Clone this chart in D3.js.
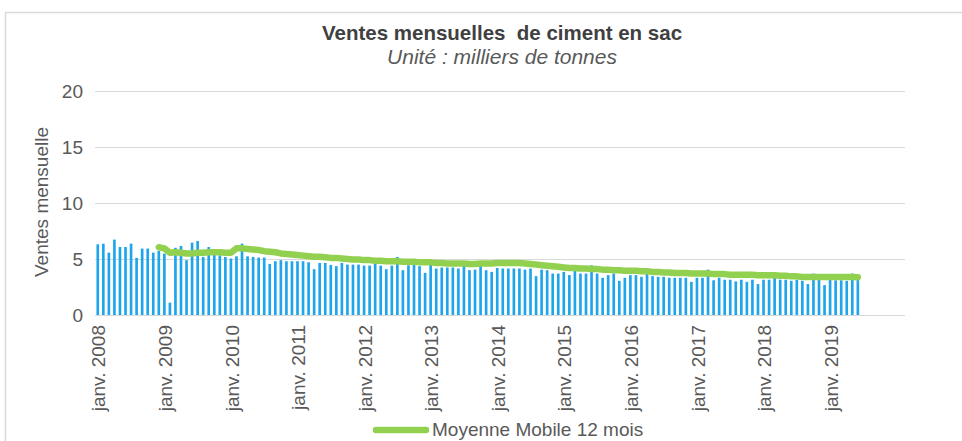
<!DOCTYPE html>
<html><head><meta charset="utf-8">
<script src="https://cdn.jsdelivr.net/npm/d3@7"></script>
<style>
html,body{margin:0;padding:0;background:#fff;}
svg{display:block;font-family:"Liberation Sans",Arial,sans-serif;}
</style></head><body>
<svg id="c" width="962" height="441"></svg>
<script>
// ---- data ----
const title = "Ventes mensuelles  de ciment en sac";
const subtitle = "Unité : milliers de tonnes";
const yTitle = "Ventes mensuelle";
const legendLabel = "Moyenne Mobile 12 mois";
const startYear = 2008;
const axisMonths = 146; // months spanned by the category axis
const yTicks = [0, 5, 10, 15, 20];
const tickLabels = ["janv. 2008","janv. 2009","janv. 2010","janv. 2011","janv. 2012","janv. 2013",
  "janv. 2014","janv. 2015","janv. 2016","janv. 2017","janv. 2018","janv. 2019"];
const sales2008 = [6.31,6.37,5.57,6.73,6.07,6.07,6.37,5.10,5.93,5.93,5.57,5.72];
const sales2009 = [5.48,1.10,6.00,6.16,4.90,6.46,6.60,5.18,6.07,5.63,5.33,5.18];
const sales2010 = [5.04,5.24,6.37,5.24,5.18,5.13,5.13,4.56,4.80,4.90,4.80,4.80];
const sales2011 = [4.80,4.80,4.71,4.09,4.65,4.65,4.47,4.36,4.65,4.50,4.50,4.50];
const sales2012 = [4.41,4.41,5.00,4.41,4.09,4.41,5.18,4.00,4.44,4.90,4.36,3.76];
const sales2013 = [4.70,4.15,4.24,4.24,4.24,4.15,4.59,4.00,4.05,4.70,4.00,3.85];
const sales2014 = [4.20,4.15,4.15,4.15,4.15,4.05,4.15,3.47,4.05,4.00,3.70,3.70];
const sales2015 = [3.85,3.56,4.44,3.70,3.70,4.44,3.70,3.32,3.56,3.70,3.05,3.32];
const sales2016 = [3.56,3.56,3.41,4.15,3.47,3.41,3.41,3.32,3.32,3.32,3.32,2.96];
const sales2017 = [3.32,3.32,4.05,3.10,3.32,3.15,3.15,3.00,3.15,2.96,3.15,2.76];
const sales2018 = [3.15,3.15,3.79,3.15,3.15,3.05,3.15,3.05,2.76,3.70,3.15,2.67];
const sales2019 = [3.15,3.10,3.10,3.05,3.70,3.15];
const movingAvg = [ // Dec 2008 .. Jun 2019
  6.05,
  5.95,5.55,5.60,5.55,5.50,5.50,5.55,5.55,5.60,5.60,5.60,5.55,
  5.55,5.95,5.95,5.90,5.85,5.80,5.70,5.65,5.60,5.50,5.45,5.40,
  5.35,5.30,5.25,5.20,5.20,5.15,5.10,5.10,5.05,5.00,4.95,4.95,
  4.90,4.90,4.85,4.85,4.80,4.80,4.80,4.75,4.75,4.75,4.70,4.70,
  4.70,4.65,4.65,4.60,4.60,4.60,4.60,4.55,4.55,4.60,4.60,4.60,
  4.65,4.65,4.65,4.65,4.65,4.60,4.55,4.50,4.45,4.40,4.35,4.30,
  4.25,4.20,4.20,4.15,4.15,4.10,4.10,4.05,4.05,4.00,4.00,3.95,
  3.95,3.95,3.90,3.90,3.85,3.85,3.80,3.80,3.75,3.75,3.75,3.70,
  3.70,3.70,3.70,3.65,3.65,3.65,3.60,3.60,3.60,3.60,3.60,3.55,
  3.55,3.55,3.55,3.50,3.50,3.45,3.45,3.40,3.40,3.40,3.40,3.40,
  3.40,3.40,3.40,3.40,3.40,3.38];
const maStartIndex = 11;

// ---- build ----
const sales = [].concat(sales2008,sales2009,sales2010,sales2011,sales2012,sales2013,
  sales2014,sales2015,sales2016,sales2017,sales2018,sales2019);
const months = d3.range(axisMonths);
const salesData = sales.map((v,i)=>({i, v}));
const maData = movingAvg.map((v,k)=>({i:k+maStartIndex, v}));

const svg = d3.select("#c");
const plot = {left:95, right:905, top:91, bottom:315};
const FONT = "Liberation Sans, Arial, sans-serif";

const x = d3.scaleBand().domain(months).range([plot.left, plot.right]).paddingInner(0.52).paddingOuter(0.26);
const y = d3.scaleLinear().domain([0,20]).range([plot.bottom, plot.top]);
const cx = i => x(i) + x.bandwidth()/2;

// outer frame
svg.append("rect").attr("x",5.5).attr("y",12.5).attr("width",980).attr("height",460)
  .attr("fill","none").attr("stroke","#d9d9d9").attr("stroke-width",1.5);

// titles
svg.append("text").attr("x",502).attr("y",40).attr("text-anchor","middle")
  .style("white-space","pre")
  .attr("font-size",20.5).attr("font-weight","bold").attr("fill","#404040").text(title);
svg.append("text").attr("x",502).attr("y",64).attr("text-anchor","middle")
  .attr("font-size",21).attr("font-style","italic").attr("fill","#595959").text(subtitle);

// gridlines
const yAxis = d3.axisLeft(y).tickValues(yTicks).tickSize(-(plot.right-plot.left)).tickPadding(12);
const gy = svg.append("g").attr("transform",`translate(${plot.left},0)`).call(yAxis);
gy.select(".domain").remove();
gy.selectAll(".tick line").attr("stroke","#d9d9d9").attr("stroke-width",1);
gy.selectAll(".tick text").attr("font-size",19).attr("fill","#595959").attr("font-family",FONT);

// y title
svg.append("text").attr("transform",`translate(48,${(plot.top+plot.bottom)/2-1}) rotate(-90)`)
  .attr("text-anchor","middle").attr("font-size",19).attr("fill","#595959").text(yTitle);

// bars
svg.append("g").selectAll("rect").data(salesData).join("rect")
  .attr("x",d=>x(d.i)).attr("width",x.bandwidth())
  .attr("y",d=>y(d.v)).attr("height",d=>y(0)-y(d.v))
  .attr("fill","#1fa5ec");

// x axis
const xAxis = d3.axisBottom(x).tickValues(tickLabels.map((t,k)=>k*12)).tickSize(0)
  .tickFormat((d)=>tickLabels[d/12]);
const gx = svg.append("g").attr("transform",`translate(0,${plot.bottom})`).call(xAxis);
gx.select(".domain").attr("stroke","#d9d9d9").attr("stroke-width",1)
  .attr("d",`M${plot.left},0.5H${plot.right}`);
gx.selectAll(".tick text").attr("font-size",19).attr("fill","#595959").attr("font-family",FONT)
  .attr("text-anchor","end").attr("dy","0.35em")
  .attr("transform","translate(1,10) rotate(-90)").attr("x",0).attr("y",0);

// moving average
const line = d3.line().x(d=>cx(d.i)).y(d=>y(d.v)).curve(d3.curveLinear);
svg.append("path").datum(maData).attr("d",line).attr("fill","none")
  .attr("stroke","#92d050").attr("stroke-width",6.5).attr("stroke-linecap","round").attr("stroke-linejoin","round");

// legend
svg.append("line").attr("x1",376).attr("x2",426).attr("y1",430).attr("y2",430)
  .attr("stroke","#92d050").attr("stroke-width",6.5).attr("stroke-linecap","round");
svg.append("text").attr("x",432).attr("y",436).attr("font-size",19).attr("fill","#595959").text(legendLabel);
</script>
</body></html>
